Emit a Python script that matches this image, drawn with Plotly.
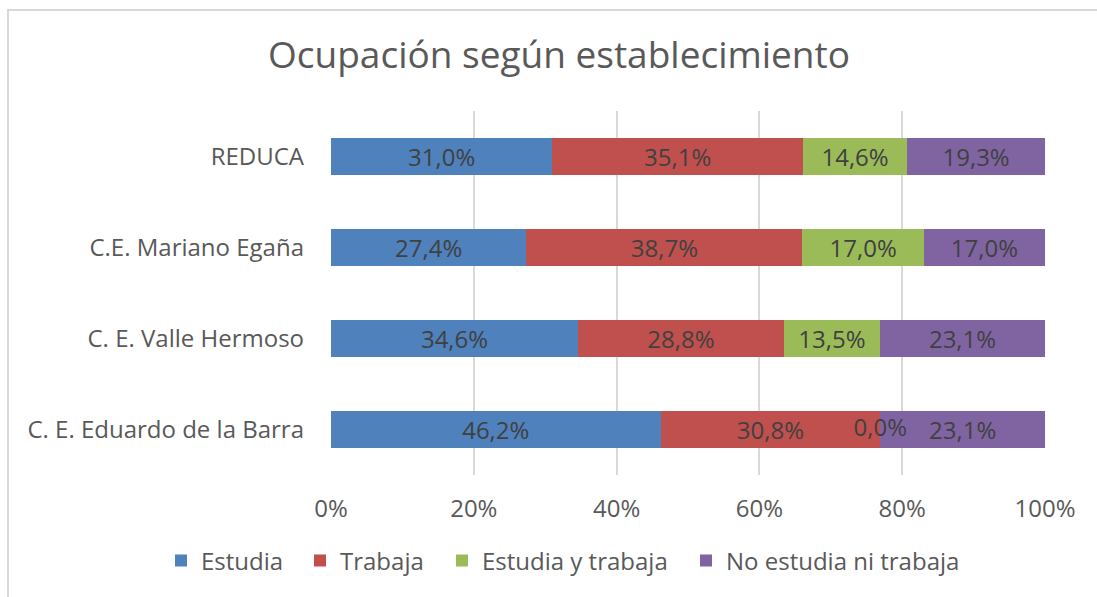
import plotly.graph_objects as go

categories = ["C. E. Eduardo de la Barra", "C. E. Valle Hermoso", "C.E. Mariano Egaña", "REDUCA"]
series_names = ["Estudia", "Trabaja", "Estudia y trabaja", "No estudia ni trabaja"]
estudia = [46.2, 34.6, 27.4, 31.0]
trabaja = [30.8, 28.8, 38.7, 35.1]
estudia_y_trabaja = [0.0, 13.5, 17.0, 14.6]
no_estudia_ni_trabaja = [23.1, 23.1, 17.0, 19.3]
colors = ["#4F81BD", "#C0504D", "#9BBB59", "#8064A2"]
x_ticks = [0, 20, 40, 60, 80, 100]
x_tick_labels = ["0%", "20%", "40%", "60%", "80%", "100%"]

FONT = "Open Sans"
LBL = 24
series = [estudia, trabaja, estudia_y_trabaja, no_estudia_ni_trabaja]
totals = [sum(s[i] for s in series) for i in range(len(categories))]
legend_ids = ["legend", "legend2", "legend3", "legend4"]
legend_symbol_px = [181, 320, 462, 706]   # horizontal centre of each legend key


def fmt(v):
    return f"{v:.1f}%".replace(".", ",")


fig = go.Figure()
for name, vals, col, lid in zip(series_names, series, colors, legend_ids):
    norm = [v / t * 100 for v, t in zip(vals, totals)]
    fig.add_trace(go.Bar(
        y=categories, x=norm, name=name, orientation="h", legend=lid,
        marker=dict(color=col, line=dict(width=0)),
        text=[fmt(v) for v in vals], textposition="inside", insidetextanchor="middle",
        textfont=dict(family=FONT, size=LBL, color="#404040"),
        constraintext="none", cliponaxis=False,
        hoverinfo="skip",
    ))

# labels for zero-width segments (inside text cannot show there)
zx, zy, zt = [], [], []
for i, cat in enumerate(categories):
    cum = 0.0
    for vals in series:
        if vals[i] == 0:
            zx.append(cum); zy.append(cat); zt.append(fmt(vals[i]))
        cum += vals[i] / totals[i] * 100
fig.add_trace(go.Scatter(x=zx, y=zy, mode="text", text=zt, showlegend=False,
                         textfont=dict(family=FONT, size=LBL, color="#404040"),
                         hoverinfo="skip", cliponaxis=False))

legends = {}
for lid, px in zip(legend_ids, legend_symbol_px):
    legends[lid] = dict(orientation="h", xref="container", yref="container",
                        x=(px - 20) / 1097, xanchor="left", y=1 - 561 / 597, yanchor="middle",
                        font=dict(family=FONT, size=LBL, color="#595959"),
                        itemwidth=30, bgcolor="rgba(0,0,0,0)", borderwidth=0)

fig.update_layout(
    barmode="stack", bargap=0.6,
    width=1097, height=597,
    paper_bgcolor="white", plot_bgcolor="white",
    margin=dict(l=331, r=52, t=111, b=122, autoexpand=False),
    font=dict(family=FONT, color="#595959"),
    title=dict(text="Ocupación según establecimiento", x=0.5096, xanchor="center",
               y=0.908, yanchor="middle",
               font=dict(family=FONT, size=37, color="#595959")),
    xaxis=dict(range=[0, 100], tickvals=x_ticks, ticktext=x_tick_labels,
               showgrid=True, gridcolor="#D9D9D9", gridwidth=1.5,
               zeroline=False, showline=False, ticks="",
               tickfont=dict(family=FONT, size=LBL, color="#595959"),
               ticklabelstandoff=17, fixedrange=True, automargin=False),
    yaxis=dict(showgrid=False, zeroline=False, showline=False, ticks="",
               tickfont=dict(family=FONT, size=LBL, color="#595959"),
               ticklabelstandoff=26, fixedrange=True, automargin=False),
    showlegend=True,
    shapes=[dict(type="rect", xref="paper", yref="paper",
                 x0=(8 - 331) / 714, x1=(1110 - 331) / 714,
                 y0=(475 - 610) / 364, y1=(475 - 10) / 364,
                 line=dict(color="#D9D9D9", width=2), fillcolor="rgba(0,0,0,0)", layer="below")],
    **legends,
)
fig.write_html("out.html", config={"displayModeBar": False},
               post_script="document.body.style.margin='0px';")
